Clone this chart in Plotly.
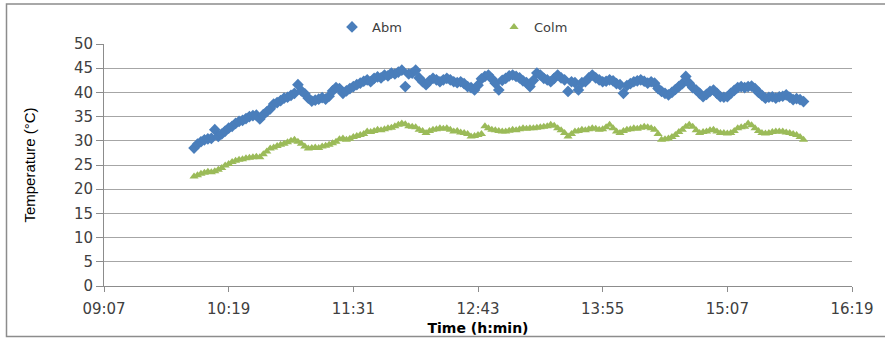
import pandas as pd
import plotly.graph_objects as go

# ---- data (2-minute samples starting 09:59) ----
start_time = "2000-01-01 09:59"
sample_step = "2min"

abm = [
    28.5, 29.3, 29.8, 30.2, 30.4, 30.5, 32.3, 30.9, 31.4, 32.0,
    32.6, 33.0, 33.6, 34.0, 34.2, 34.6, 35.0, 35.2, 35.3, 34.5,
    35.4, 36.0, 36.6, 37.6, 37.9, 38.3, 38.8, 39.0, 39.4, 39.8,
    41.6, 40.3, 39.7, 38.8, 38.2, 38.4, 38.6, 38.9, 38.6, 39.2,
    40.3, 41.0, 40.8, 39.8, 40.3, 40.8, 41.2, 41.6, 41.9, 42.3,
    42.6, 42.2, 42.9, 43.2, 43.0, 43.6, 43.4, 44.0, 43.8, 44.2,
    44.6, 41.2, 43.8, 44.0, 44.6, 43.0, 42.2, 41.6, 42.4, 42.9,
    42.6, 42.2, 42.6, 42.9, 42.6, 42.2, 42.0, 42.2, 41.8, 41.2,
    41.0, 40.5, 41.5, 42.8, 43.3, 43.6, 42.8, 41.9, 40.5, 42.5,
    42.9, 43.4, 43.6, 43.3, 43.0, 42.4, 42.0, 41.2, 42.5, 44.0,
    43.6, 42.9, 42.6, 42.2, 42.9, 43.6, 43.0, 42.6, 40.2, 42.2,
    42.0, 40.5, 42.0, 42.2, 43.0, 43.6, 43.0, 42.6, 42.2, 42.3,
    42.6, 42.4, 41.8, 41.6, 39.8, 41.4, 41.8, 42.2, 42.4, 42.6,
    42.3, 41.9, 42.2, 41.9, 40.8, 40.2, 39.8, 39.5, 40.0, 40.6,
    41.2, 41.8, 43.3, 41.9, 41.0, 40.5, 39.8, 39.1, 39.6, 40.2,
    40.5, 39.8, 39.1, 39.0, 39.1, 39.8, 40.4, 41.0, 41.2, 41.0,
    41.2, 41.3, 40.8, 40.0, 39.4, 38.8, 39.0, 39.1, 38.8, 39.1,
    39.2, 39.5, 39.0, 38.5, 38.7, 38.5, 38.1,
]

colm = [
    22.6, 22.9, 23.2, 23.4, 23.6, 23.5, 23.7, 24.0, 24.4, 24.9,
    25.2, 25.6, 25.9, 26.1, 26.2, 26.4, 26.5, 26.6, 26.7, 26.6,
    27.2, 27.8, 28.4, 28.6, 28.9, 29.2, 29.4, 29.7, 30.0, 30.2,
    29.8, 29.4, 28.8, 28.4, 28.5, 28.6, 28.5, 28.8, 29.0, 29.2,
    29.5, 29.8, 30.3, 30.5, 30.2, 30.4, 30.8, 31.0, 31.2, 31.4,
    31.9, 31.8, 32.0, 32.3, 32.2, 32.4, 32.6, 32.7, 33.0, 33.3,
    33.6, 33.4, 33.0, 32.9, 32.8, 32.3, 32.0, 31.6, 32.0, 32.3,
    32.4, 32.6, 32.5, 32.6, 32.3, 31.9, 32.0, 31.7, 31.6, 31.4,
    30.9, 31.0, 31.2, 31.4, 33.0, 32.6, 32.3, 32.2, 32.0, 31.9,
    31.9, 32.1, 32.3, 32.2, 32.4, 32.6, 32.5, 32.6, 32.6, 32.7,
    32.8, 32.9, 33.0, 33.3, 33.1, 32.6, 32.2, 31.6, 30.9, 31.4,
    31.9, 32.0, 32.3, 32.2, 32.4, 32.6, 32.5, 32.3, 32.4, 32.8,
    33.3, 32.6, 31.9, 31.6, 32.0, 32.3, 32.4, 32.6, 32.5, 32.7,
    32.9, 32.8, 32.6, 32.3, 31.4, 30.2, 30.3, 30.5, 30.8, 31.2,
    31.8, 32.3, 32.9, 33.3, 32.9, 32.2, 31.6, 31.8, 31.9, 32.2,
    32.3, 31.9, 31.6, 31.6, 31.5, 31.6, 32.0, 32.6, 32.8, 32.9,
    33.6, 33.2, 32.6, 32.0, 31.6, 31.5, 31.6, 31.8, 31.9, 31.9,
    31.9, 31.7, 31.6, 31.4, 31.2, 30.8, 30.2,
]

tick_labels = ["09:07", "10:19", "11:31", "12:43", "13:55", "15:07", "16:19"]
y_ticks = [0, 5, 10, 15, 20, 25, 30, 35, 40, 45, 50]

times = pd.date_range(start_time, periods=len(abm), freq=sample_step)
tick_vals = ["2000-01-01 " + t for t in tick_labels]

BLUE = "#4a7ebb"
GREEN = "#9bbb59"
AX = "#8c8c8c"
GRID = "#a6a6a6"
TXT = "#404040"

fig = go.Figure()
fig.add_trace(go.Scatter(
    x=times, y=abm, mode="markers", name="Abm",
    marker=dict(symbol="diamond", size=9, color=BLUE),
    legend="legend", showlegend=True,
))
fig.add_trace(go.Scatter(
    x=times, y=colm, mode="markers", name="Colm",
    marker=dict(symbol="triangle-up", size=8, color=GREEN),
    legend="legend2", showlegend=True,
))

L, R, T, B = 104, 33, 44, 53
W, H = 885, 339
pw, ph = W - L - R, H - T - B

def px_x(px):
    return (px - L) / pw

def px_y(py):
    return (H - B - py) / ph

fig.update_layout(
    width=W, height=H,
    showlegend=True,
    margin=dict(l=L, r=R, t=T, b=B, autoexpand=False),
    paper_bgcolor="white", plot_bgcolor="white",
    font=dict(family="DejaVu Sans", color=TXT, size=14),
    legend=dict(
        x=px_x(332), y=px_y(27), xanchor="left", yanchor="middle",
        orientation="h", font=dict(size=13, color=TXT),
        bgcolor="rgba(0,0,0,0)", itemwidth=30,
    ),
    legend2=dict(
        x=px_x(494), y=px_y(27), xanchor="left", yanchor="middle",
        orientation="h", font=dict(size=13, color=TXT),
        bgcolor="rgba(0,0,0,0)", itemwidth=30,
    ),
    xaxis=dict(
        type="date",
        range=[tick_vals[0], tick_vals[-1]],
        tickvals=tick_vals, ticktext=tick_labels,
        showgrid=False, showline=True, linecolor=AX, linewidth=1,
        ticks="outside", ticklen=5, tickcolor=AX,
        ticklabelstandoff=4,
        tickfont=dict(size=15, color=TXT, family="DejaVu Sans"),
        title=dict(text="<b>Time (h:min)</b>",
                   font=dict(size=14, color="black", family="DejaVu Sans"),
                   standoff=6),
        zeroline=False,
    ),
    yaxis=dict(
        range=[0, 50], tickvals=y_ticks,
        showgrid=True, gridcolor=GRID, gridwidth=1,
        showline=True, linecolor=AX, linewidth=1,
        ticks="outside", ticklen=7, tickcolor=AX,
        tickfont=dict(size=15, color=TXT, family="DejaVu Sans"),
        title=dict(text="Temperature (°C)",
                   font=dict(size=15, color="black", family="Liberation Sans"),
                   standoff=34),
        zeroline=False,
    ),
    shapes=[dict(
        type="rect", xref="paper", yref="paper",
        x0=px_x(6.5), x1=px_x(888), y0=px_y(336.5), y1=px_y(4),
        line=dict(color="#8c8c8c", width=1.5), fillcolor="rgba(0,0,0,0)",
        layer="below",
    )],
)

fig.write_html(
    "out.html",
    config={"displayModeBar": False},
    post_script="document.body.style.margin='0';document.body.style.overflow='hidden';",
)
